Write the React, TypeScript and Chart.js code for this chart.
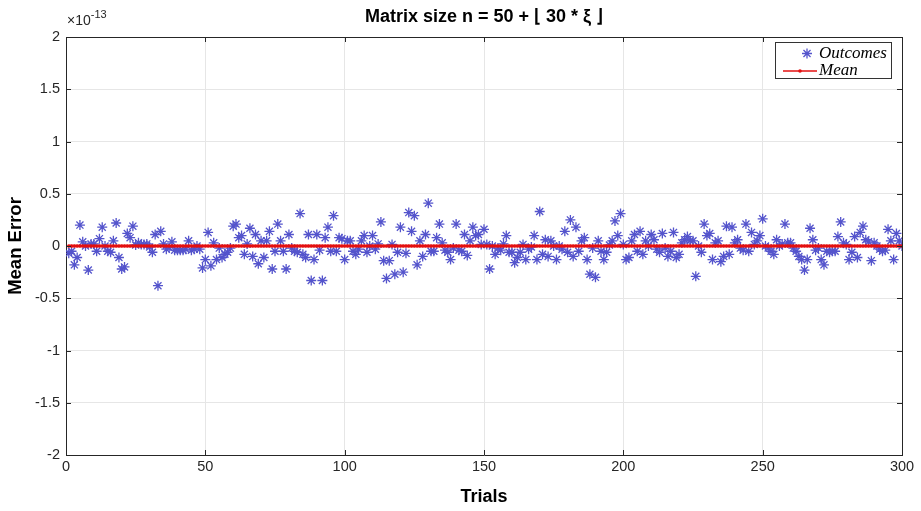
import React, { useEffect, useRef } from "react";
import { Chart, registerables } from "chart.js";

Chart.register(...registerables);

const chartTitle = "Matrix size n = 50 + \u230A 30 * \u03BE \u230B";
const xAxisTitle = "Trials";
const yAxisTitle = "Mean Error";
const legendLabels = ["Outcomes", "Mean"];
const xTickValues = [0, 50, 100, 150, 200, 250, 300];
const yTickValues = [-2, -1.5, -1, -0.5, 0, 0.5, 1, 1.5, 2];
const yExponent = "-13";

// Mean error of each trial, in units of 1e-13 (trial 1 .. 300)
const outcomes = [
  -0.07, -0.05, -0.18, -0.11, 0.2, 0.04, 0.0, -0.23, 0.02, 0.02,
  -0.05, 0.07, 0.18, 0.0, -0.05, -0.06, 0.05, 0.22, -0.11, -0.22,
  -0.2, 0.12, 0.08, 0.19, 0.01, 0.03, 0.015, 0.015, 0.02, -0.01,
  -0.06, 0.11, -0.38, 0.14, 0.02, -0.03, -0.015, 0.04, -0.04, -0.04,
  -0.04, -0.04, -0.03, 0.05, -0.04, -0.03, 0.0, -0.03, -0.21, -0.13,
  0.13, -0.19, 0.03, -0.13, -0.02, -0.11, -0.08, -0.06, -0.02, 0.19,
  0.21, 0.08, 0.1, -0.08, 0.02, 0.17, -0.1, 0.11, -0.17, 0.05,
  -0.11, 0.05, 0.14, -0.22, -0.05, 0.21, 0.05, -0.05, -0.22, 0.11,
  -0.02, -0.05, -0.06, 0.31, -0.08, -0.11, 0.11, -0.33, -0.13, 0.11,
  -0.04, -0.33, 0.08, 0.18, -0.05, 0.29, -0.05, 0.08, 0.07, -0.13,
  0.05, 0.05, -0.05, -0.08, -0.03, 0.05, 0.1, -0.06, 0.0, 0.1,
  -0.03, 0.02, 0.23, -0.14, -0.31, -0.14, 0.015, -0.27, -0.06, 0.18,
  -0.25, -0.07, 0.32, 0.14, 0.29, -0.18, 0.05, -0.1, 0.11, 0.41,
  -0.05, -0.05, 0.08, 0.21, 0.03, -0.04, -0.06, -0.13, -0.02, 0.21,
  -0.04, -0.05, 0.11, -0.09, 0.05, 0.18, 0.1, 0.11, 0.015, 0.16,
  0.015, -0.22, 0.0, -0.08, -0.02, -0.04, 0.02, 0.1, -0.06, -0.06,
  -0.16, -0.11, -0.06, 0.015, -0.13, -0.03, -0.01, 0.1, -0.13, 0.33,
  -0.08, 0.06, -0.1, 0.05, 0.0, -0.13, 0.0, -0.03, 0.14, -0.06,
  0.25, -0.1, 0.18, -0.05, 0.05, 0.08, -0.13, -0.27, -0.02, -0.3,
  0.05, -0.05, -0.13, -0.06, 0.01, 0.05, 0.24, 0.1, 0.31, 0.015,
  -0.13, -0.11, 0.05, 0.11, -0.05, 0.14, -0.08, 0.05, 0.0, 0.11,
  0.06, -0.03, -0.06, 0.12, -0.02, -0.1, -0.05, 0.13, -0.11, -0.08,
  0.03, 0.06, 0.09, 0.05, 0.05, -0.29, 0.0, -0.06, 0.21, 0.1,
  0.12, -0.13, 0.03, 0.05, -0.15, -0.1, 0.19, -0.08, 0.18, 0.03,
  0.06, -0.02, -0.04, 0.21, -0.05, 0.13, 0.015, 0.05, 0.1, 0.26,
  0.0, -0.02, -0.05, -0.08, 0.06, 0.0, 0.02, 0.21, 0.03, 0.03,
  -0.02, -0.05, -0.1, -0.13, -0.23, -0.13, 0.17, 0.06, -0.04, -0.02,
  -0.13, -0.18, -0.05, -0.06, -0.05, -0.05, 0.09, 0.23, 0.03, 0.015,
  -0.13, -0.06, 0.09, -0.11, 0.13, 0.19, 0.06, 0.04, -0.14, 0.03,
  0.0, -0.03, -0.05, -0.04, 0.16, 0.05, -0.13, 0.12, 0.05, 0.0,
];
const meanError = 0;

const STAR_COLOR = "rgb(84,84,204)";
const MEAN_COLOR = "rgb(228,16,16)";
const AXIS_COLOR = "#262626";
const GRID_COLOR = "#e6e6e6";
const SANS = "'Liberation Sans', Arial, Helvetica, sans-serif";
const SERIF = "'Liberation Serif', 'Times New Roman', serif";

const decorPlugin = {
  id: "decor",
  afterDraw(chart: any) {
    const { ctx, chartArea } = chart;
    const { left, right, top, bottom } = chartArea;
    const xs = chart.scales.x;
    const ys = chart.scales.y;
    ctx.save();
    // box
    ctx.strokeStyle = AXIS_COLOR;
    ctx.lineWidth = 1;
    ctx.beginPath();
    ctx.moveTo(left + 0.5, top + 0.5);
    ctx.lineTo(right + 0.5, top + 0.5);
    ctx.lineTo(right + 0.5, bottom + 0.5);
    ctx.stroke();
    // inward ticks
    ctx.beginPath();
    for (const v of xTickValues) {
      const px = Math.round(xs.getPixelForValue(v)) + 0.5;
      ctx.moveTo(px, bottom);
      ctx.lineTo(px, bottom - 5);
      ctx.moveTo(px, top);
      ctx.lineTo(px, top + 5);
    }
    for (const v of yTickValues) {
      const py = Math.round(ys.getPixelForValue(v)) + 0.5;
      ctx.moveTo(left, py);
      ctx.lineTo(left + 5, py);
      ctx.moveTo(right, py);
      ctx.lineTo(right - 5, py);
    }
    ctx.stroke();

    // title
    ctx.fillStyle = "#000";
    ctx.textAlign = "center";
    ctx.textBaseline = "middle";
    ctx.font = `bold 18px ${SANS}`;
    ctx.fillText(chartTitle, (left + right) / 2, 17.5);

    // x axis title
    ctx.font = `bold 18px ${SANS}`;
    ctx.fillText(xAxisTitle, (left + right) / 2, 497);

    // y axis title
    ctx.save();
    ctx.translate(16, (top + bottom) / 2);
    ctx.rotate(-Math.PI / 2);
    ctx.font = `bold 18.5px ${SANS}`;
    ctx.fillText(yAxisTitle, 0, 0);
    ctx.restore();

    // exponent
    ctx.fillStyle = AXIS_COLOR;
    ctx.textAlign = "left";
    ctx.textBaseline = "alphabetic";
    ctx.font = `14px ${SANS}`;
    ctx.fillText("\u00D710", left + 1, 25);
    const w = ctx.measureText("\u00D710").width;
    ctx.font = `11px ${SANS}`;
    ctx.fillText(yExponent, left + 1 + w, 18);

    // legend
    const lx = 775, ly = 42, lw = 116, lh = 36;
    ctx.fillStyle = "#fff";
    ctx.fillRect(lx, ly, lw, lh);
    ctx.strokeStyle = "#333";
    ctx.lineWidth = 1;
    ctx.strokeRect(lx + 0.5, ly + 0.5, lw, lh);
    // star marker
    const sx = 807, sy = 53.5, r = 5;
    ctx.strokeStyle = STAR_COLOR;
    ctx.lineWidth = 1.3;
    ctx.beginPath();
    for (let k = 0; k < 4; k++) {
      const a = (k * Math.PI) / 4;
      ctx.moveTo(sx - r * Math.cos(a), sy - r * Math.sin(a));
      ctx.lineTo(sx + r * Math.cos(a), sy + r * Math.sin(a));
    }
    ctx.stroke();
    // mean line
    ctx.strokeStyle = MEAN_COLOR;
    ctx.lineWidth = 1.5;
    ctx.beginPath();
    ctx.moveTo(783, 71);
    ctx.lineTo(817, 71);
    ctx.stroke();
    ctx.fillStyle = MEAN_COLOR;
    ctx.beginPath();
    ctx.arc(800, 71, 1.8, 0, Math.PI * 2);
    ctx.fill();
    // legend text
    ctx.fillStyle = "#000";
    ctx.font = `italic 17px ${SERIF}`;
    ctx.textBaseline = "middle";
    ctx.fillText(legendLabels[0], 819, 53.5);
    ctx.fillText(legendLabels[1], 819, 71);
    ctx.restore();
  },
};

export default function App() {
  const canvasRef = useRef<HTMLCanvasElement | null>(null);

  useEffect(() => {
    document.body.style.margin = "0";
    const canvas = canvasRef.current;
    if (!canvas) return;
    const outcomePoints = outcomes.map((v, i) => ({ x: i + 1, y: v }));
    const meanPoints = outcomes.map((_, i) => ({ x: i + 1, y: meanError }));
    const chart = new Chart(canvas, {
      type: "scatter",
      data: {
        datasets: [
          {
            label: legendLabels[1],
            type: "line",
            data: meanPoints,
            borderColor: MEAN_COLOR,
            backgroundColor: MEAN_COLOR,
            borderWidth: 2.5,
            pointRadius: 1.8,
            pointBorderWidth: 0,
            pointBackgroundColor: MEAN_COLOR,
            fill: false,
            tension: 0,
          } as any,
          {
            label: legendLabels[0],
            data: outcomePoints,
            pointStyle: "star",
            pointRadius: 5,
            borderColor: STAR_COLOR,
            backgroundColor: STAR_COLOR,
            pointBorderWidth: 1.3,
            showLine: false,
          } as any,
        ],
      },
      options: {
        responsive: false,
        animation: false,
        devicePixelRatio: 1,
        layout: { padding: { left: 0, top: 37, right: 19, bottom: 0 } },
        plugins: {
          legend: { display: false },
          title: { display: false },
          tooltip: { enabled: false },
        },
        scales: {
          x: {
            type: "linear",
            min: 0,
            max: 300,
            afterBuildTicks: (s: any) => {
              s.ticks = xTickValues.map((v) => ({ value: v }));
            },
            afterFit: (s: any) => {
              s.height = 56;
            },
            ticks: {
              color: AXIS_COLOR,
              font: { family: SANS, size: 14.5 },
              padding: 3,
              maxRotation: 0,
              autoSkip: false,
            },
            grid: { color: GRID_COLOR, drawTicks: false },
            border: { color: AXIS_COLOR, width: 1 },
          },
          y: {
            type: "linear",
            min: -2,
            max: 2,
            afterBuildTicks: (s: any) => {
              s.ticks = yTickValues.map((v) => ({ value: v }));
            },
            afterFit: (s: any) => {
              s.width = 66;
            },
            ticks: {
              color: AXIS_COLOR,
              font: { family: SANS, size: 14.5 },
              padding: 6,
              autoSkip: false,
              callback: (v: any) => String(v),
            },
            grid: { color: GRID_COLOR, drawTicks: false },
            border: { color: AXIS_COLOR, width: 1 },
          },
        },
      },
      plugins: [decorPlugin],
    });
    return () => chart.destroy();
  }, []);

  return (
    <div style={{ width: 921, height: 511 }}>
      <canvas ref={canvasRef} width={921} height={511} />
    </div>
  );
}
